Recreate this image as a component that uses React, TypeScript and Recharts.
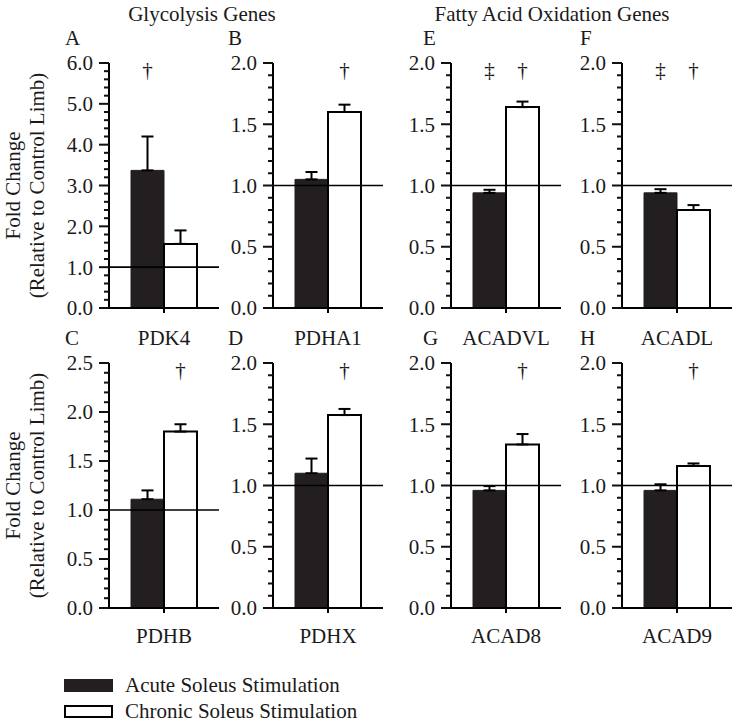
import React from "react";
import {
  BarChart,
  Bar,
  XAxis,
  YAxis,
  ReferenceLine,
  ErrorBar,
  LabelList,
} from "recharts";

// ---- Data ----
const genes = ["PDK4", "PDHA1", "ACADVL", "ACADL", "PDHB", "PDHX", "ACAD8", "ACAD9"];
const panelLetters = ["A", "B", "E", "F", "C", "D", "G", "H"];
const acuteValues = [3.37, 1.05, 0.94, 0.94, 1.11, 1.1, 0.96, 0.96];
const acuteErrors = [0.83, 0.06, 0.025, 0.03, 0.09, 0.12, 0.035, 0.05];
const chronicValues = [1.57, 1.6, 1.64, 0.8, 1.8, 1.575, 1.335, 1.16];
const chronicErrors = [0.33, 0.06, 0.045, 0.04, 0.075, 0.05, 0.085, 0.02];
const acuteSig = ["†", "", "‡", "‡", "", "", "", ""];
const chronicSig = ["", "†", "†", "†", "†", "†", "†", "†"];
const yMax = [6, 2, 2, 2, 2.5, 2, 2, 2];
const minorStep = [0.2, 0.1, 0.1, 0.1, 0.1, 0.1, 0.1, 0.1];
const majorStep = [1, 0.5, 0.5, 0.5, 0.5, 0.5, 0.5, 0.5];
const groupTitles = ["Glycolysis Genes", "Fatty Acid Oxidation Genes"];
const legendLabels = ["Acute Soleus Stimulation", "Chronic Soleus Stimulation"];
const yLabelLines = ["Fold Change", "(Relative to Control Limb)"];

// ---- Layout / style ----
const FONT = "'Liberation Serif', 'Times New Roman', serif";
const BLACK = "#231f20";
const TEXT = "#1a1a1a";
const AXIS_X = [109, 273, 451, 622];
const PLOT_TOP = [63, 363];
const PLOT_H = 245;
const PLOT_W = 110;
const YAXIS_W = 60;
const M_TOP = 20;
const XAXIS_H = 45;
const LETTER_X = [65, 228, 423, 580];
const LETTER_Y = [45, 345];

function buildTicks(max: number, step: number) {
  const n = Math.round(max / step);
  const arr: number[] = [];
  for (let i = 0; i <= n; i++) arr.push(Math.round(i * step * 100) / 100);
  return arr;
}

const YTick = (props: any) => {
  const { x, y, payload, major } = props;
  const v = Number(payload.value);
  const isMajor = Math.abs(v / major - Math.round(v / major)) < 1e-6;
  const len = isMajor ? 10 : 5;
  return (
    <g>
      <rect x={Number(x) - len} y={Number(y) - 1} width={len} height={2} fill="#111" />
      {isMajor && (
        <text
          x={Number(x) - 16}
          y={y}
          dy="0.35em"
          textAnchor="end"
          fontFamily={FONT}
          fontSize={21}
          fill={TEXT}
        >
          {v.toFixed(1)}
        </text>
      )}
    </g>
  );
};

const SigLabel = (props: any) => {
  const { x, width, value } = props;
  if (!value) return null;
  return (
    <text
      x={Number(x) + Number(width) / 2}
      y={M_TOP + 14}
      textAnchor="middle"
      fontFamily={FONT}
      fontSize={21}
      fill={TEXT}
    >
      {value}
    </text>
  );
};

function Panel({ i }: { i: number }) {
  const row = i < 4 ? 0 : 1;
  const col = i % 4;
  const data = [
    {
      gene: genes[i],
      acute: acuteValues[i],
      chronic: chronicValues[i],
      acuteErr: [0, acuteErrors[i]],
      chronicErr: [0, chronicErrors[i]],
      acuteSig: acuteSig[i],
      chronicSig: chronicSig[i],
    },
  ];
  const ticks = buildTicks(yMax[i], minorStep[i]);
  const width = YAXIS_W + PLOT_W + 2;
  const height = M_TOP + PLOT_H + XAXIS_H;
  return (
    <div
      style={{
        position: "absolute",
        left: AXIS_X[col] - YAXIS_W,
        top: PLOT_TOP[row] - M_TOP,
        width,
        height,
      }}
    >
      <BarChart
        width={width}
        height={height}
        data={data}
        margin={{ top: M_TOP, right: 2, bottom: 0, left: 0 }}
        barCategoryGap="20%"
        barGap={0}
      >
        <XAxis
          dataKey="gene"
          height={XAXIS_H}
          axisLine={{ stroke: "#000", strokeWidth: 2 }}
          tickLine={{ stroke: "#000", strokeWidth: 2 }}
          tickSize={5}
          tickMargin={row === 0 ? 17 : 15}
          tick={{ fontFamily: FONT, fontSize: 21, fill: TEXT }}
          interval={0}
        />
        <YAxis
          width={YAXIS_W}
          domain={[0, yMax[i]]}
          ticks={ticks}
          interval={0}
          type="number"
          axisLine={{ stroke: "#000", strokeWidth: 2 }}
          tickLine={false}
          tickSize={0}
          tickMargin={0}
          tick={<YTick major={majorStep[i]} />}
        />
        <Bar dataKey="acute" fill={BLACK} stroke={BLACK} strokeWidth={1} isAnimationActive={false}>
          <ErrorBar dataKey="acuteErr" width={6} stroke="#000" strokeWidth={2} direction="y" />
          <LabelList dataKey="acuteSig" content={<SigLabel />} />
        </Bar>
        <Bar dataKey="chronic" fill="#fff" stroke="#000" strokeWidth={2} isAnimationActive={false}>
          <ErrorBar dataKey="chronicErr" width={6} stroke="#000" strokeWidth={2} direction="y" />
          <LabelList dataKey="chronicSig" content={<SigLabel />} />
        </Bar>
        <ReferenceLine y={1} stroke="#000" strokeWidth={1.6} ifOverflow="extendDomain" />
      </BarChart>
    </div>
  );
}

export default function App() {
  return (
    <div
      style={{
        position: "absolute",
        left: 0,
        top: 0,
        width: 735,
        height: 723,
        background: "#fff",
        overflow: "hidden",
      }}
    >
      {genes.map((_, i) => (
        <Panel key={i} i={i} />
      ))}
      <svg
        width={735}
        height={723}
        style={{ position: "absolute", left: 0, top: 0, pointerEvents: "none" }}
      >
        <g fill={TEXT} fontSize={21} fontFamily={FONT}>
          <text x={202} y={21} textAnchor="middle">
            {groupTitles[0]}
          </text>
          <text x={552} y={21} textAnchor="middle">
            {groupTitles[1]}
          </text>
          {panelLetters.map((l, i) => (
            <text key={l} x={LETTER_X[i % 4]} y={LETTER_Y[i < 4 ? 0 : 1]}>
              {l}
            </text>
          ))}
          {[0, 1].map((r) => {
            const cy = PLOT_TOP[r] + PLOT_H / 2;
            return (
              <g key={r}>
                <text transform={`translate(20, ${cy}) rotate(-90)`} textAnchor="middle">
                  {yLabelLines[0]}
                </text>
                <text transform={`translate(44, ${cy}) rotate(-90)`} textAnchor="middle">
                  {yLabelLines[1]}
                </text>
              </g>
            );
          })}
          <rect x={64} y={679} width={49} height={13} fill={BLACK} />
          <rect x={65} y={706} width={47} height={11} fill="#fff" stroke="#000" strokeWidth={2} />
          <text x={125} y={692}>
            {legendLabels[0]}
          </text>
          <text x={125} y={718}>
            {legendLabels[1]}
          </text>
        </g>
      </svg>
    </div>
  );
}
